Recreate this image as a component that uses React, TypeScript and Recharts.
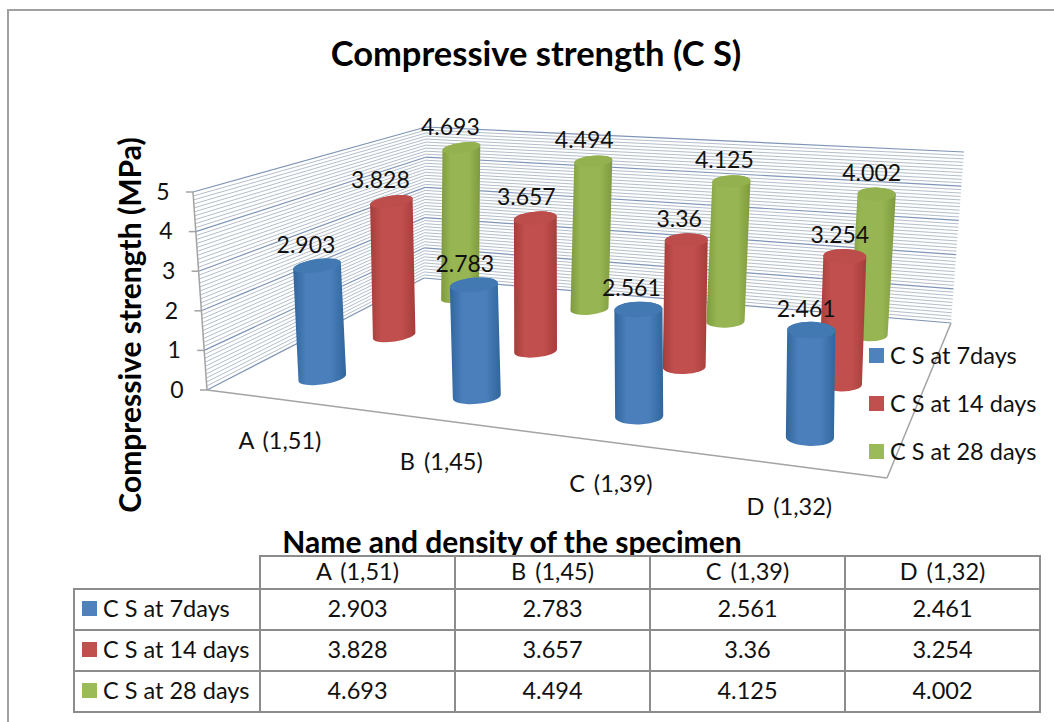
import React from 'react';
import { BarChart, Bar, XAxis, YAxis, Legend, LabelList, Customized } from 'recharts';

const categories = ['A (1,51)', 'B (1,45)', 'C (1,39)', 'D (1,32)'];
const seriesNames = ['C S at 7days', 'C S at 14 days', 'C S at 28 days'];
const days7 = [2.903, 2.783, 2.561, 2.461];
const days14 = [3.828, 3.657, 3.36, 3.254];
const days28 = [4.693, 4.494, 4.125, 4.002];
const yTicks = [0, 1, 2, 3, 4, 5];
const seriesColors = ['#4f81bd', '#c0504d', '#9bbb59'];

const rows = categories.map((name, i) => ({ name, d7: days7[i], d14: days14[i], d28: days28[i] }));
const tableValues = [days7, days14, days28];

const FONT = 'Lato, sans-serif';
const W = 1054;
const H = 722;
const PLOT = { left: 207, top: 192, right: 887, bottom: 390 };
const PLOT_W = PLOT.right - PLOT.left;
const PLOT_H = PLOT.bottom - PLOT.top;
const Y_MAX = 5;

// the flat plot area is mapped on to the tilted 3D box of the original
const FLOOR = { fl: [207, 390], fr: [887, 478], bl: [424, 278], br: [951, 323] };
const ROOF = { fl: [193, 192], fr: [890, 243], bl: [426, 127], br: [964, 152] };
const FORESHORTEN = 0.905;

const mix = (c: any, x: number, z: number) =>
  [0, 1].map(
    (k) => (1 - x) * (1 - z) * c.fl[k] + x * (1 - z) * c.fr[k] + (1 - x) * z * c.bl[k] + x * z * c.br[k]
  );

const project = (fx: number, z: number, v: number) => {
  const x = (fx * FORESHORTEN) / (1 + (FORESHORTEN - 1) * fx);
  const a = mix(FLOOR, x, z);
  const b = mix(ROOF, x, z);
  const t = v / Y_MAX;
  return [a[0] + (b[0] - a[0]) * t, a[1] + (b[1] - a[1]) * t];
};

const line = (p: number[], q: number[]) => `M${p[0]},${p[1]}L${q[0]},${q[1]}`;

// walls and floor edges
const Walls = () => {
  const levels = Array.from({ length: Y_MAX * 10 + 1 }, (_, i) => i / 10);
  return (
    <g>
      {levels.map((v, i) => {
        const major = i % 10 === 0;
        const stroke = major ? '#7f95b6' : '#aab5c3';
        return (
          <g key={i} fill="none" stroke={stroke} strokeWidth={major ? 1.2 : 0.9}>
            <path d={line(project(0, 0, v), project(0, 1, v))} />
            <path d={line(project(0, 1, v), project(1, 1, v))} />
          </g>
        );
      })}
      <g fill="none" stroke="#a3a3a3" strokeWidth={1.5}>
        <path d={line(project(0, 0, 0), project(0, 0, Y_MAX))} />
        <path d={line(project(0, 0, 0), project(1, 0, 0))} />
        <path d={line(project(1, 0, 0), project(1, 1, 0))} />
      </g>
    </g>
  );
};

// depth of each series inside the box, in drawing order (back to front)
const depthOf = [0.88, 0.55, 0.19];

const barGeometry = (props: any, slot: number) => {
  const { x, width, height } = props;
  const fx = (x + width / 2 - (slot - 1) * width - PLOT.left) / PLOT_W;
  const z = depthOf[slot];
  const v = (height / PLOT_H) * Y_MAX;
  const bottom = project(fx, z, 0);
  const top = project(fx, z, v);
  const rx = (width / 2) * (1.13 - 0.32 * z);
  const ry = rx * (0.26 + 0.1 * fx);
  const tilt = -10 + 13 * fx;
  return { fx, bottom, top, rx, ry, tilt };
};

const Cylinder = (props: any, slot: number, tone: string) => {
  const { bottom, top, rx, ry, tilt } = barGeometry(props, slot);
  const rad = (tilt * Math.PI) / 180;
  const dx = rx * Math.cos(rad);
  const dy = rx * Math.sin(rad);
  const body =
    `M${top[0] - dx},${top[1] - dy}` +
    `L${bottom[0] - dx},${bottom[1] - dy}` +
    `A${rx},${ry} ${tilt} 0 0 ${bottom[0] + dx},${bottom[1] + dy}` +
    `L${top[0] + dx},${top[1] + dy}` +
    `A${rx},${ry} ${tilt} 0 0 ${top[0] - dx},${top[1] - dy}Z`;
  return (
    <g>
      <path d={body} fill={`url(#side${slot})`} />
      <ellipse
        cx={top[0]}
        cy={top[1]}
        rx={rx}
        ry={ry}
        fill={tone}
        transform={`rotate(${tilt} ${top[0]} ${top[1]})`}
      />
    </g>
  );
};

const valueLabel = (slot: number) => (props: any) => {
  const { value } = props;
  const { top, fx } = barGeometry(props, slot);
  return (
    <text
      x={top[0] - 12 + 8 * fx}
      y={top[1] - 19}
      textAnchor="middle"
      dominantBaseline="middle"
      fontFamily={FONT}
      fontSize={23}
      fill="#111"
    >
      {value}
    </text>
  );
};

const CategoryTick = ({ payload }: any) => {
  const fx = (payload.coordinate - PLOT.left) / PLOT_W;
  const p = project(fx, 0, 0);
  return (
    <text
      x={p[0] - 5}
      y={p[1] + 43}
      textAnchor="middle"
      dominantBaseline="middle"
      fontFamily={FONT}
      fontSize={23.5}
      wordSpacing={3}
      fill="#111"
    >
      {payload.value}
    </text>
  );
};

const ValueTick = ({ payload }: any) => {
  const p = project(0, 0, payload.value);
  return (
    <g>
      <path d={`M${p[0] - 7},${p[1]}L${p[0]},${p[1]}`} stroke="#a3a3a3" strokeWidth={1.5} />
      <text
        x={p[0] - 30}
        y={p[1] + 2}
        textAnchor="middle"
        dominantBaseline="middle"
        fontFamily={FONT}
        fontSize={23}
        fill="#111"
      >
        {payload.value}
      </text>
    </g>
  );
};

const Swatch = ({ color }: { color: string }) => (
  <span style={{ display: 'inline-block', width: 15, height: 15, background: color, marginRight: 6, flexShrink: 0 }} />
);

const LegendBox = () => (
  <div style={{ fontFamily: FONT, fontSize: 23.5, color: '#111' }}>
    {seriesNames.map((name, i) => (
      <div key={name} style={{ height: 48, display: 'flex', alignItems: 'center', whiteSpace: 'nowrap' }}>
        <Swatch color={seriesColors[i]} />
        {name}
      </div>
    ))}
  </div>
);

const cell: React.CSSProperties = {
  border: '2px solid #8c8c8c',
  textAlign: 'center',
  padding: '0 0 3px 0',
  background: '#fff',
};

const DataTable = () => (
  <table
    style={{
      position: 'absolute',
      left: 73,
      top: 555,
      width: 966,
      tableLayout: 'fixed',
      borderCollapse: 'collapse',
      fontFamily: FONT,
      fontSize: 23.5,
      color: '#111',
    }}
  >
    <colgroup>
      <col style={{ width: 186 }} />
      {categories.map((c) => (
        <col key={c} style={{ width: 195 }} />
      ))}
    </colgroup>
    <tbody>
      <tr style={{ height: 33 }}>
        <td style={{ padding: 0 }} />
        {categories.map((c) => (
          <td key={c} style={{ ...cell, fontSize: 23.5, wordSpacing: 3, lineHeight: '28px' }}>
            {c}
          </td>
        ))}
      </tr>
      {seriesNames.map((name, i) => (
        <tr key={name} style={{ height: 41 }}>
          <td style={{ ...cell, textAlign: 'left', paddingLeft: 7, whiteSpace: 'nowrap' }}>
            <span style={{ display: 'flex', alignItems: 'center' }}>
              <Swatch color={seriesColors[i]} />
              {name}
            </span>
          </td>
          {tableValues[i].map((v, j) => (
            <td key={j} style={cell}>
              {v}
            </td>
          ))}
        </tr>
      ))}
    </tbody>
  </table>
);

const sideGradient = (id: string, edge: string, mid: string) => (
  <linearGradient id={id} x1="0" y1="0" x2="1" y2="0">
    <stop offset="0%" stopColor={edge} />
    <stop offset="25%" stopColor={mid} />
    <stop offset="70%" stopColor={mid} />
    <stop offset="100%" stopColor={edge} />
  </linearGradient>
);

export default function App() {
  return (
    <div style={{ position: 'absolute', left: 0, top: 0, width: W, height: H, overflow: 'hidden', background: '#fff' }}>
      <div style={{ position: 'absolute', left: 7, top: 9, right: 0, bottom: 0, borderLeft: '2px solid #a0a0a0', borderTop: '2px solid #a0a0a0' }} />
      <div style={{ position: 'absolute', left: 0, top: 0 }}>
        <BarChart
          width={W}
          height={H}
          data={rows}
          barGap={0}
          barCategoryGap="10%"
          margin={{ top: PLOT.top, right: W - PLOT.right, bottom: H - PLOT.bottom - 30, left: PLOT.left - 60 }}
        >
          <defs>
            {sideGradient('side0', '#7f9a3f', '#97b653')}
            {sideGradient('side1', '#a63d3b', '#c04f4d')}
            {sideGradient('side2', '#30669c', '#4a7fbb')}
          </defs>
          <text x={536} y={57} textAnchor="middle" dominantBaseline="middle" fontFamily={FONT} fontWeight={700} fontSize={34.5} fill="#000">
            Compressive strength (C S)
          </text>
          <Customized component={Walls} />
          <XAxis
            dataKey="name"
            height={30}
            axisLine={false}
            tickLine={false}
            interval={0}
            tick={CategoryTick}
            label={{
              value: 'Name and density of the specimen',
              position: 'bottom',
              offset: 112,
              dx: -35,
              fontFamily: FONT,
              fontWeight: 700,
              fontSize: 30,
              fill: '#000',
            }}
          />
          <YAxis
            width={60}
            domain={[0, Y_MAX]}
            ticks={yTicks}
            axisLine={false}
            tickLine={false}
            tick={ValueTick}
            label={{
              value: 'Compressive strength (MPa)',
              angle: -90,
              position: 'left',
              offset: 17,
              dy: 34,
              textAnchor: 'middle',
              fontFamily: FONT,
              fontWeight: 700,
              fontSize: 30,
              fill: '#000',
            }}
          />
          <Bar dataKey="d28" isAnimationActive={false} shape={(p: any) => Cylinder(p, 0, '#93b24f')}>
            <LabelList dataKey="d28" content={valueLabel(0)} />
          </Bar>
          <Bar dataKey="d14" isAnimationActive={false} shape={(p: any) => Cylinder(p, 1, '#bd4d4b')}>
            <LabelList dataKey="d14" content={valueLabel(1)} />
          </Bar>
          <Bar dataKey="d7" isAnimationActive={false} shape={(p: any) => Cylinder(p, 2, '#4379b3')}>
            <LabelList dataKey="d7" content={valueLabel(2)} />
          </Bar>
          <Legend
            layout="vertical"
            align="center"
            verticalAlign="middle"
            content={LegendBox}
            wrapperStyle={{ position: 'absolute', left: 869, top: 331, width: 180 }}
          />
        </BarChart>
      </div>
      <DataTable />
    </div>
  );
}
